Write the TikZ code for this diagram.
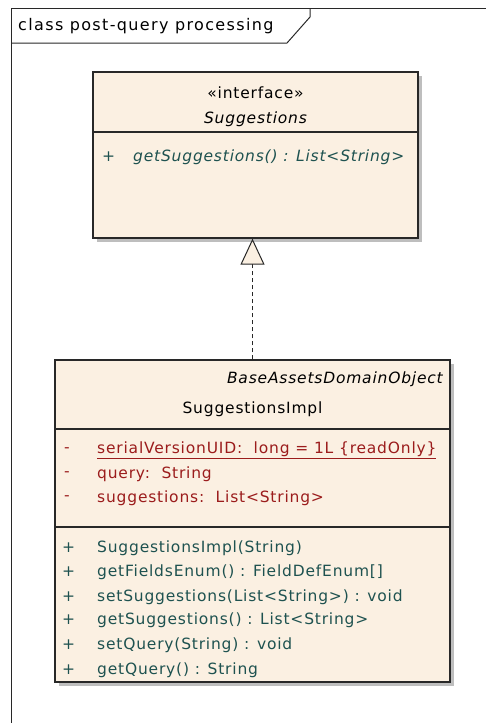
\documentclass[tikz,border=0pt]{standalone}
\usepackage{fontspec}
\setmainfont{DejaVu Sans}[LetterSpace=5.2]
\newfontfamily\titlefont{DejaVu Sans}[LetterSpace=8.5]
\usetikzlibrary{arrows.meta}
\definecolor{cream}{RGB}{251,240,226}
\definecolor{shade}{RGB}{190,190,190}
\definecolor{opcol}{RGB}{30,82,80}
\definecolor{attcol}{RGB}{155,28,28}
\definecolor{framecol}{RGB}{40,40,40}
\tikzset{
  classbox/.style={draw=framecol, line width=1.3pt, fill=cream, inner sep=0pt},
  shadowbox/.style={fill=shade, draw=none, inner sep=0pt},
  txt/.style={font=\fontsize{15.5}{18}\selectfont, inner sep=0pt},
  itxt/.style={font=\fontsize{15.5}{18}\selectfont\itshape, inner sep=0pt},
  optxt/.style={txt, text=opcol, anchor=west},
  atttxt/.style={txt, text=attcol, anchor=west},
  divider/.style={draw=framecol, line width=1.1pt},
  realize/.style={draw=framecol, line width=1.5pt, dash pattern=on 4pt off 3pt,
    -{Triangle[open, length=26pt, width=24pt, fill=cream, line width=1pt]}},
}
\begin{document}
\begin{tikzpicture}[x=1pt,y=-1pt]
\useasboundingbox (0,0) rectangle (486,723);
% frame
\draw[framecol, line width=1pt] (11,723) -- (11,8) -- (486,8);
\draw[framecol, line width=1pt] (11,43) -- (287,43) -- (310,17) -- (310,8);
\node[font=\titlefont\fontsize{16}{19}\selectfont, inner sep=0pt, anchor=west] (title) at (18,26) {class post-query processing};
% interface box
\node[shadowbox, minimum width=325pt, minimum height=166pt] (ifaceshadow) at (259.5,159) {};
\node[classbox, minimum width=325pt, minimum height=166pt] (iface) at (255.5,155) {};
\draw[divider] (93,132) -- (418,132);
\node[txt] (stereo) at (255.5,93) {«interface»};
\node[itxt] (ifname) at (255.5,119) {Suggestions};
\node[optxt] (ifplus) at (102,157) {+};
\node[itxt, text=opcol, anchor=west] (ifop) at (133,157) {getSuggestions() : List<String>};
% implementation box
\node[shadowbox, minimum width=395pt, minimum height=322pt] (implshadow) at (256.5,525) {};
\node[classbox, minimum width=395pt, minimum height=322pt] (impl) at (252.5,521) {};
\draw[divider] (55,429) -- (450,429);
\draw[divider] (55,527) -- (450,527);
\node[itxt, anchor=east] (base) at (443,379) {BaseAssetsDomainObject};
\node[txt] (implname) at (252.5,409) {SuggestionsImpl};
\node[atttxt] (a1m) at (64,450) {-};
\node[atttxt] (a1) at (97,450) {\underline{serialVersionUID:\ \ long = 1L \{readOnly\}}};
\node[atttxt] (a2m) at (64,474) {-};
\node[atttxt] (a2) at (97,474) {query:\ \ String};
\node[atttxt] (a3m) at (64,498) {-};
\node[atttxt] (a3) at (97,498) {suggestions:\ \ List<String>};
\node[optxt] (o1m) at (62,548) {+};
\node[optxt] (o1) at (97,548) {SuggestionsImpl(String)};
\node[optxt] (o2m) at (62,572) {+};
\node[optxt] (o2) at (97,572) {getFieldsEnum() : FieldDefEnum[]};
\node[optxt] (o3m) at (62,597) {+};
\node[optxt] (o3) at (97,597) {setSuggestions(List<String>) : void};
\node[optxt] (o4m) at (62,620) {+};
\node[optxt] (o4) at (97,620) {getSuggestions() : List<String>};
\node[optxt] (o5m) at (62,645) {+};
\node[optxt] (o5) at (97,645) {setQuery(String) : void};
\node[optxt] (o6m) at (62,670) {+};
\node[optxt] (o6) at (97,670) {getQuery() : String};
% realization
\draw[realize] (impl.north) -- (impl.north |- iface.south);
\end{tikzpicture}
\end{document}
